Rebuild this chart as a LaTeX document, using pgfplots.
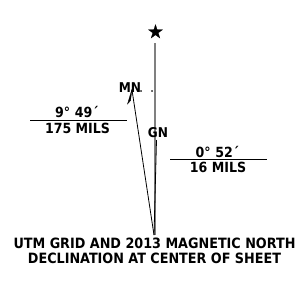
\documentclass[border=0pt]{standalone}
\usepackage{pgfplots}
\pgfplotsset{compat=1.18}
\usepackage{fontspec}
\setmainfont{DejaVu Sans Condensed}
\begin{document}
\begin{tikzpicture}
\begin{axis}[
  scale only axis, width=299pt, height=281pt,
  xmin=0, xmax=299, ymin=0, ymax=281, y dir=reverse,
  hide axis, clip=false,
]
\path (axis cs:0,0) rectangle (axis cs:299,281);
% true north (gray)
\addplot[gray, line width=1.1pt] coordinates {(155,43) (155,235)};
% grid north
\addplot[black, line width=0.8pt] coordinates {(154,235) (156.5,140)};
% magnetic north
\addplot[black, line width=0.8pt] coordinates {(154,235) (132,90)};
% half arrowhead
\addplot[black, fill=black, line width=0.3pt] coordinates {(132,89) (127.5,104) (130.6,100.5) (132,89)};
% star
\addplot[black, fill=black, line width=0.2pt] coordinates {
(155.5,24.5) (157.19,29.68) (162.63,29.68) (158.23,32.89) (159.91,38.07)
(155.5,34.87) (151.09,38.07) (152.77,32.89) (148.37,29.68) (153.81,29.68) (155.5,24.5)};
% dots
\addplot[only marks, mark=*, mark size=0.5pt, black] coordinates {(141,91) (152,91)};
% rules
\addplot[black, line width=0.8pt] coordinates {(30,120) (127,120)};
\addplot[black, line width=0.8pt] coordinates {(170,159) (267,159)};
% labels
\node[font=\bfseries\fontsize{14}{15}\selectfont] at (axis cs:77,112) {9°\,\,49´};
\node[font=\bfseries\fontsize{14}{15}\selectfont] at (axis cs:77.5,128) {175 MILS};
\node[font=\bfseries\fontsize{14}{15}\selectfont] at (axis cs:217.5,152) {0°\,\,52´};
\node[font=\bfseries\fontsize{14}{15}\selectfont] at (axis cs:218,167) {16 MILS};
\node[font=\bfseries\fontsize{13.5}{15}\selectfont, inner sep=0pt] at (axis cs:130,88) {MN};
\node[font=\bfseries\fontsize{13.5}{15}\selectfont, inner sep=0pt] at (axis cs:158,133) {GN};
\node[font=\bfseries\fontsize{14.2}{15}\selectfont, inner sep=0pt] at (axis cs:154.5,243) {UTM GRID AND 2013 MAGNETIC NORTH};
\node[font=\bfseries\fontsize{14.2}{15}\selectfont, inner sep=0pt] at (axis cs:154.5,258) {DECLINATION AT CENTER OF SHEET};
\end{axis}
\end{tikzpicture}
\end{document}
